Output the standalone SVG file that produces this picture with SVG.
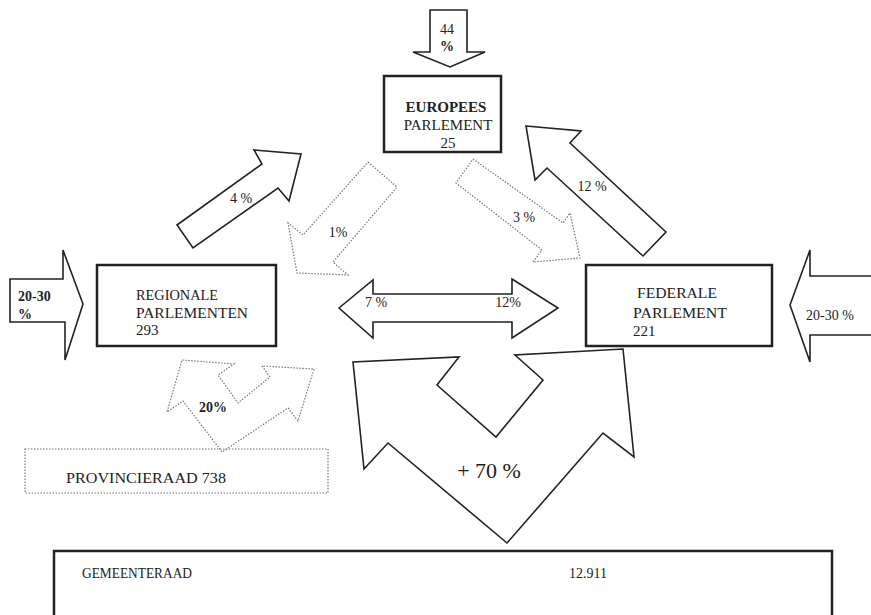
<svg xmlns="http://www.w3.org/2000/svg" width="871" height="615" viewBox="0 0 871 615">
<style>
  .box { fill: #fff; stroke: #222; stroke-width: 2.5; }
  .dbox { fill: none; stroke: #777; stroke-width: 1.2; stroke-dasharray: 1.5 1.5; }
  .arr { fill: #fff; stroke: #222; stroke-width: 1.6; stroke-linejoin: miter; }
  .darr { fill: #fff; stroke: #777; stroke-width: 1.2; stroke-dasharray: 1.5 1.5; }
  text { font-family: "Liberation Serif", "Times New Roman", serif; fill: #222; }
  .n { font-size: 15px; }
  .b { font-weight: bold; }
  .lab { font-size: 14px; }
  .big { font-size: 22px; }
</style>
<rect width="871" height="615" fill="#fff"/>

<g id="connectors">
  <g id="arrow-44">
    <polygon class="arr" points="430,10 467,10 467,52 485,52 450,67 413,52 430,52"/>
    <text class="lab" x="447" y="34" text-anchor="middle">44</text>
    <text class="lab b" x="447" y="51" text-anchor="middle">%</text>
  </g>
  <g id="arrow-4">
    <polygon class="arr" points="177,225 262,164 254,150 301,154 289,201 278,188 193,248"/>
    <text class="lab" x="241" y="203" text-anchor="middle">4 %</text>
  </g>
  <g id="arrow-1">
    <polygon class="darr" points="368,162 397,187 333,262 348,275 297,273 288,223 303,235"/>
    <text class="lab" x="338" y="237" text-anchor="middle">1%</text>
  </g>
  <g id="arrow-3">
    <polygon class="darr" points="473,159 563,223 570,213 580,258 533,262 542,250 456,183"/>
    <text class="lab" x="524" y="222" text-anchor="middle">3 %</text>
  </g>
  <g id="arrow-12">
    <polygon class="arr" points="526,126 581,131 570,143 666,232 643,256 547,168 535,180"/>
    <text class="lab" x="592" y="191" text-anchor="middle">12 %</text>
  </g>
  <g id="arrow-left-20-30">
    <polygon class="arr" points="10,279 63,279 63,250 83,304 65,360 65,322 10,322"/>
    <text class="lab b" x="18" y="301">20-30</text>
    <text class="lab b" x="18" y="319">%</text>
  </g>
  <g id="arrow-right-20-30">
    <polyline class="arr" points="874,276 810,276 810,250 790,305 810,362 810,335 874,335"/>
    <text class="lab" x="806" y="320">20-30 %</text>
  </g>
  <g id="arrow-7-12">
    <polygon class="arr" points="339,308 373,280 373,294 512,294 512,279 558,308 512,338 512,322 373,322 373,338"/>
    <text class="lab" x="376" y="307" text-anchor="middle">7 %</text>
    <text class="lab" x="508" y="307" text-anchor="middle">12%</text>
  </g>
  <g id="arrow-70">
    <polygon class="arr" points="507,543 388,443 364,469 353,362 459,357 437,385 496,437 543,380 515,355 623,349 634,457 603,433"/>
    <text class="big" x="489" y="478" text-anchor="middle">+ 70 %</text>
  </g>
  <g id="arrow-20">
    <polygon class="darr" points="222,452 183,401 167,412 182,360 234,364 218,375 238,403 270,377 262,366 314,369 298,421 288,408"/>
    <text class="lab b" x="213" y="412" text-anchor="middle">20%</text>
  </g>
</g>

<g id="europees">
  <rect class="box" x="384" y="76" width="117" height="76"/>
  <text class="n b" x="446" y="112" text-anchor="middle">EUROPEES</text>
  <text class="n" x="448" y="130" text-anchor="middle">PARLEMENT</text>
  <text class="n" x="448" y="148" text-anchor="middle">25</text>
</g>

<g id="regionale">
  <rect class="box" x="97" y="265" width="179" height="81"/>
  <text class="n" x="136" y="300" textLength="82" lengthAdjust="spacingAndGlyphs">REGIONALE</text>
  <text class="n" x="136" y="318" textLength="112" lengthAdjust="spacingAndGlyphs">PARLEMENTEN</text>
  <text class="n" x="136" y="335">293</text>
</g>

<g id="federale">
  <rect class="box" x="586" y="265" width="186" height="81"/>
  <text class="n" x="637" y="298" textLength="80" lengthAdjust="spacingAndGlyphs">FEDERALE</text>
  <text class="n" x="633" y="318" textLength="94" lengthAdjust="spacingAndGlyphs">PARLEMENT</text>
  <text class="n" x="633" y="336">221</text>
</g>

<g id="provincieraad">
  <rect class="dbox" x="25" y="449" width="303" height="44"/>
  <text class="n" x="66" y="483" textLength="160" lengthAdjust="spacingAndGlyphs">PROVINCIERAAD 738</text>
</g>

<g id="gemeenteraad">
  <rect class="box" x="54" y="551" width="778" height="90"/>
  <text class="lab" x="82" y="578" textLength="110" lengthAdjust="spacingAndGlyphs">GEMEENTERAAD</text>
  <text class="lab" x="569" y="578">12.911</text>
</g>
</svg>
